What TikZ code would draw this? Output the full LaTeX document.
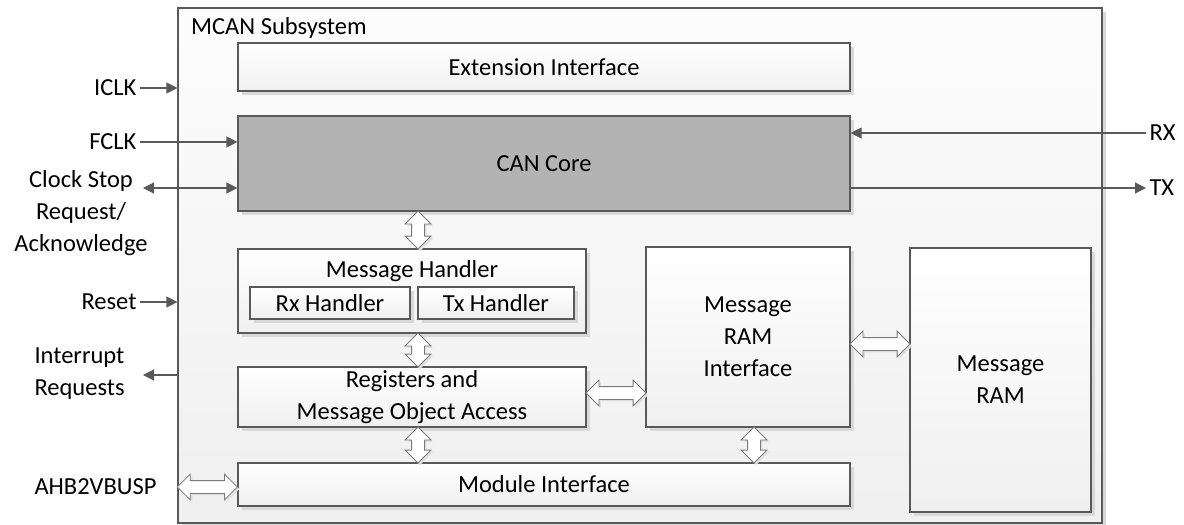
\documentclass[tikz,border=0pt]{standalone}
\usepackage{fontspec}
\setmainfont{Carlito}
\usepackage{tikz}
\usetikzlibrary{arrows.meta, positioning, shapes.arrows, shadows, calc}
\definecolor{edge}{HTML}{595959}
\definecolor{corefill}{HTML}{B3B3B3}

\begin{document}
\begin{tikzpicture}[
        x=1pt, y=-1pt,
        every node/.style={font=\fontsize{24.5}{32}\selectfont},
        blk/.style={draw=edge, line width=1.2pt, top color=white, bottom color=black!6, inner sep=0pt, align=center,
            drop shadow={shadow xshift=4pt, shadow yshift=-4pt, fill=black!15, opacity=1}},
        sig/.style={-{Triangle[length=11pt, width=11pt]}, line width=1.2pt, draw=edge},
        sigboth/.style={{Triangle[length=11pt, width=11pt]}-{Triangle[length=11pt, width=11pt]}, line width=1.2pt, draw=edge},
        bus/.style={shape=double arrow, draw=edge!80, line width=0.8pt, fill=white, inner xsep=0pt, inner ysep=6pt,
            double arrow head extend=6.5pt, double arrow head indent=0pt,
            drop shadow={shadow xshift=2pt, shadow yshift=-2pt, fill=black!12, opacity=1}}
    ]
        \useasboundingbox (0,0) rectangle (1184,525);

        % subsystem frame
        \node[blk, top color=black!1, bottom color=black!6, minimum width=924, minimum height=515] (sys) at (640,265.5) {};
        \node[anchor=base west, inner sep=0pt] (systitle) at (191,34) {MCAN Subsystem};

        % blocks
        \node[blk, minimum width=612, minimum height=48] (ext) at (544,67) {Extension Interface};
        \node[blk, top color=corefill, bottom color=corefill, minimum width=612, minimum height=95] (core) at (544,163.5) {CAN Core};
        \node[blk, minimum width=348, minimum height=84] (mh) at (412,291) {};
        \node[anchor=center] (mhtitle) at ($(mh.north)+(0,23)$) {Message Handler};
        \node[blk, minimum width=160, minimum height=32] (rxh) at (330,303) {Rx Handler};
        \node[blk, minimum width=156, minimum height=32] (txh) at (496,303) {Tx Handler};
        \node[blk, minimum width=348, minimum height=60] (reg) at (412,397) {Registers and\\Message Object Access};
        \node[blk, minimum width=612, minimum height=43] (mi) at (544,484.5) {Module Interface};
        \node[blk, minimum width=204, minimum height=180] (mri) at (748,337) {Message\\RAM\\Interface};
        \node[blk, minimum width=181, minimum height=264] (mram) at (1000.5,380) {Message\\RAM};

        % external signals
        \node[anchor=east] (iclk) at (140,88) {ICLK};
        \node[anchor=east] (fclk) at (140,142) {FCLK};
        \node[align=center] (clkstop) at (81,213) {Clock Stop\\Request/\\Acknowledge};
        \coordinate (cs) at (143,188);
        \node[anchor=east] (reset) at (140,302) {Reset};
        \node[anchor=west, align=left] (irq) at (31,374) {Interrupt\\Requests};
        \coordinate (ci) at (143,375);
        \node[anchor=west] (ahb) at (31,487) {AHB2VBUSP};
        \node[anchor=west] (rx) at (1146,133) {RX};
        \node[anchor=west] (tx) at (1146,188) {TX};

        \draw[sig] (iclk.east) -- (iclk.east -| sys.west);
        \draw[sig] (fclk.east) -- (fclk.east -| core.west);
        \draw[sigboth] (cs) -- (cs -| core.west);
        \draw[sig] (reset.east) -- (reset.east -| sys.west);
        \draw[sig] (ci -| sys.west) -- (ci);
        \draw[sig] (rx.west) -- (rx.west -| core.east);
        \draw[sig] (tx.west -| core.east) -- (tx.west);

        % internal buses
        \node[bus, rotate=90, minimum height=38] (b1) at ($(mh.north)!0.5!(mh.north |- core.south)+(6,0)$) {};
        \node[bus, rotate=90, minimum height=34] (b2) at ($(mh.south)!0.5!(reg.north)+(6,0)$) {};
        \node[bus, rotate=90, minimum height=36] (b3) at ($(reg.south)!0.5!(reg.south |- mi.north)+(6,0)$) {};
        \node[bus, rotate=90, minimum height=36] (b4) at ($(mri.south)!0.5!(mri.south |- mi.north)+(6,0)$) {};
        \node[bus, minimum height=60] (b5) at ($(reg.east)!0.5!(reg.east -| mri.west)+(0,-4)$) {};
        \node[bus, minimum height=60] (b6) at ($(mri.east)!0.5!(mri.east -| mram.west)+(0,7)$) {};
        \node[bus, minimum height=60] (b7) at ($(ahb.east -| sys.west)!0.5!(ahb.east -| mi.west)$) {};
    \end{tikzpicture}
\end{document}
